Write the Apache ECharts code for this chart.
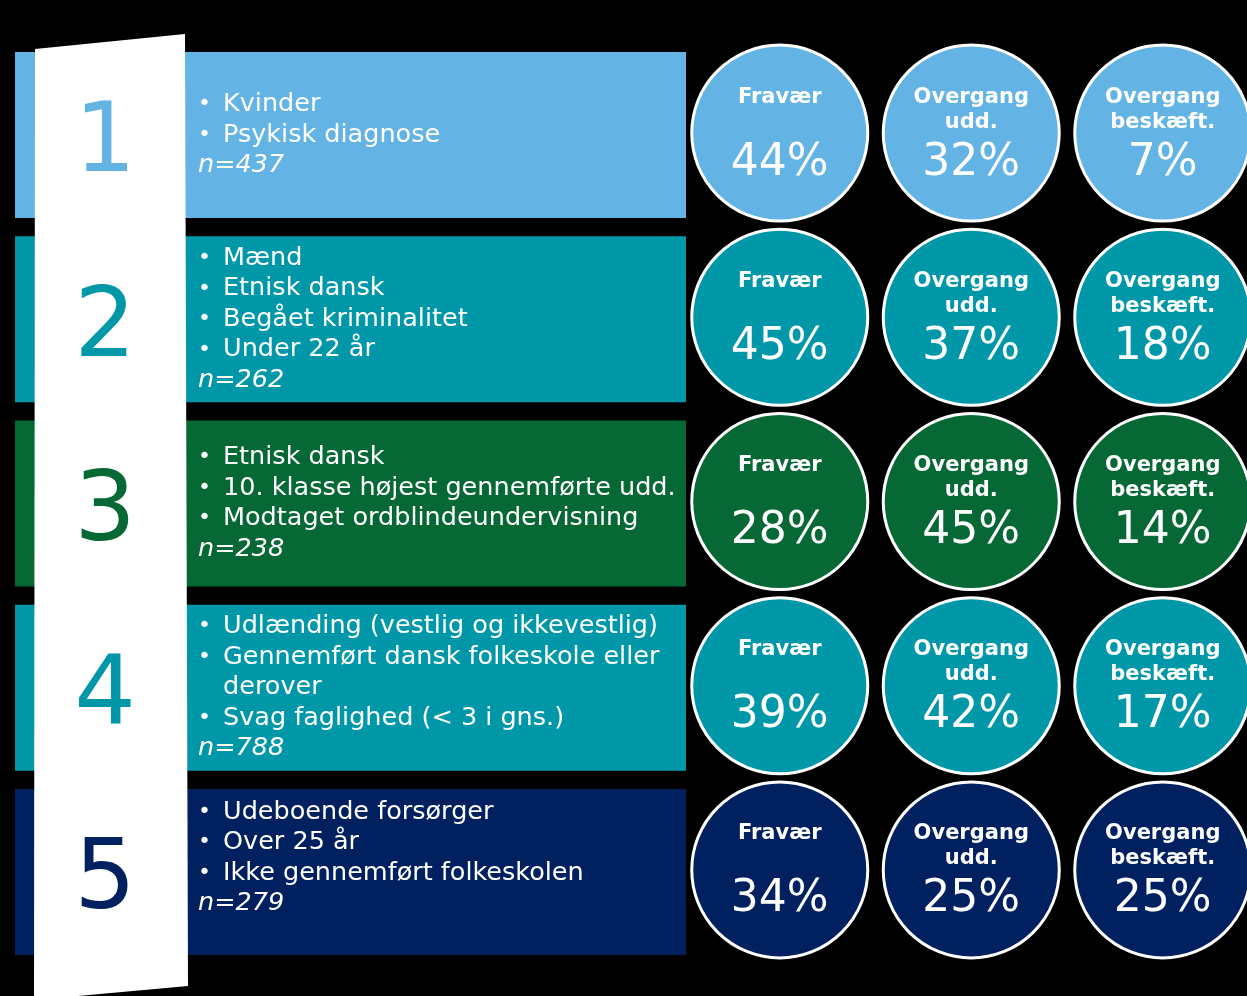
<!DOCTYPE html>
<html>
<head>
<meta charset="utf-8">
<script src="https://cdn.jsdelivr.net/npm/echarts@6/dist/echarts.min.js"></script>
<style>
html,body{margin:0;padding:0;background:#000;}
#c{width:1247px;height:996px;}
</style>
</head>
<body>
<div id="c"></div>
<script>
// ---- data ----
const groups = ['1', '2', '3', '4', '5'];
const traits = [
  ['Kvinder', 'Psykisk diagnose'],
  ['Mænd', 'Etnisk dansk', 'Begået kriminalitet', 'Under 22 år'],
  ['Etnisk dansk', '10. klasse højest gennemførte udd.', 'Modtaget ordblindeundervisning'],
  ['Udlænding (vestlig og ikkevestlig)', 'Gennemført dansk folkeskole eller\nderover', 'Svag faglighed (< 3 i gns.)'],
  ['Udeboende forsørger', 'Over 25 år', 'Ikke gennemført folkeskolen']
];
const nValues = [437, 262, 238, 788, 279];
const metrics = ['Fravær', 'Overgang\nudd.', 'Overgang\nbeskæft.'];
const fravaer = [44, 45, 28, 39, 34];
const overgangUdd = [32, 37, 45, 42, 25];
const overgangBeskaeft = [7, 18, 14, 17, 25];

// ---- styles ----
const rowColors = ['#63B4E4', '#0098A9', '#066835', '#0098A9', '#002060'];
const rowTextNudge = [0, 0, 0, 0, -14];
const FONT = '"DejaVu Sans", Verdana, sans-serif';

const chart = echarts.init(document.getElementById('c'));

function traitLabel(i) {
  const lines = [];
  traits[i].forEach(t => {
    t.split('\n').forEach((part, k) => {
      lines.push('{b|' + (k === 0 ? '•' : '') + '}{t|' + part + '}');
    });
  });
  lines.push('{n|n=' + nValues[i] + '}');
  return lines.join('\n');
}

const rectData = groups.map((g, i) => ({
  value: 1,
  itemStyle: { color: rowColors[i] },
  label: { offset: [0, rowTextNudge[i]] }
}));
const numData = groups.map((g, i) => ({
  value: 1,
  label: { color: rowColors[i] }
}));

const valueSets = [fravaer, overgangUdd, overgangBeskaeft];
const circleData = [];
valueSets.forEach((vals, m) => {
  vals.forEach((v, i) => {
    circleData.push({
      value: [m, i, v],
      itemStyle: { color: rowColors[i] }
    });
  });
});

const option = {
  backgroundColor: '#000',
  animation: false,
  graphic: [{
    type: 'polygon',
    z: 5,
    shape: { points: [[35, 49], [185, 34], [188, 986], [34, 1000]] },
    style: { fill: '#fff' }
  }],
  grid: [
    { left: 15, width: 671, top: 43, height: 921 },
    { left: 684, right: 0, top: 43, height: 921 }
  ],
  xAxis: [
    { gridIndex: 0, type: 'value', min: 0, max: 1, show: false },
    { gridIndex: 1, type: 'value', min: -0.5, max: -0.5 + 563 / 191.5, show: false }
  ],
  yAxis: [
    { gridIndex: 0, type: 'category', data: groups, inverse: true, show: false },
    { gridIndex: 1, type: 'category', data: groups, inverse: true, show: false }
  ],
  series: [
    {
      type: 'bar', xAxisIndex: 0, yAxisIndex: 0, z: 2,
      barWidth: 166, barGap: '-100%',
      data: rectData,
      label: {
        show: true, position: [183, '50%'], align: 'left', verticalAlign: 'middle',
        formatter: p => traitLabel(p.dataIndex),
        rich: {
          b: { fontFamily: FONT, fontSize: 22, color: '#fff', width: 25, lineHeight: 30.5 },
          t: { fontFamily: FONT, fontSize: 25.5, color: '#fff', lineHeight: 30.5 },
          n: { fontFamily: FONT, fontSize: 25.5, color: '#fff', fontStyle: 'italic', lineHeight: 30.5 }
        }
      }
    },
    {
      type: 'bar', xAxisIndex: 0, yAxisIndex: 0, z: 10,
      barWidth: 166, barGap: '-100%',
      itemStyle: { color: 'rgba(0,0,0,0)' },
      data: numData,
      label: {
        show: true, position: [90, '50%'], align: 'center', verticalAlign: 'middle',
        offset: [0, 11],
        formatter: p => groups[p.dataIndex],
        fontFamily: FONT, fontSize: 97
      }
    },
    {
      type: 'scatter', xAxisIndex: 1, yAxisIndex: 1, z: 3,
      symbol: 'circle', symbolSize: 176, symbolOffset: [0, -2],
      itemStyle: { borderColor: '#fff', borderWidth: 3, opacity: 1 },
      data: circleData,
      label: {
        show: true, position: 'inside', offset: [0, 5],
        formatter: p => {
          const head = metrics[p.value[0]].split('\n');
          if (head.length < 2) head.push(' ');
          return head.map(h => '{h|' + h + '}').join('\n') + '\n{p|' + p.value[2] + '%}';
        },
        rich: {
          h: { fontFamily: FONT, fontSize: 21, fontWeight: 'bold', color: '#fff', lineHeight: 25, align: 'center' },
          p: { fontFamily: FONT, fontSize: 44, color: '#fff', lineHeight: 57, align: 'center' }
        }
      }
    }
  ]
};
chart.setOption(option);
</script>
</body>
</html>
